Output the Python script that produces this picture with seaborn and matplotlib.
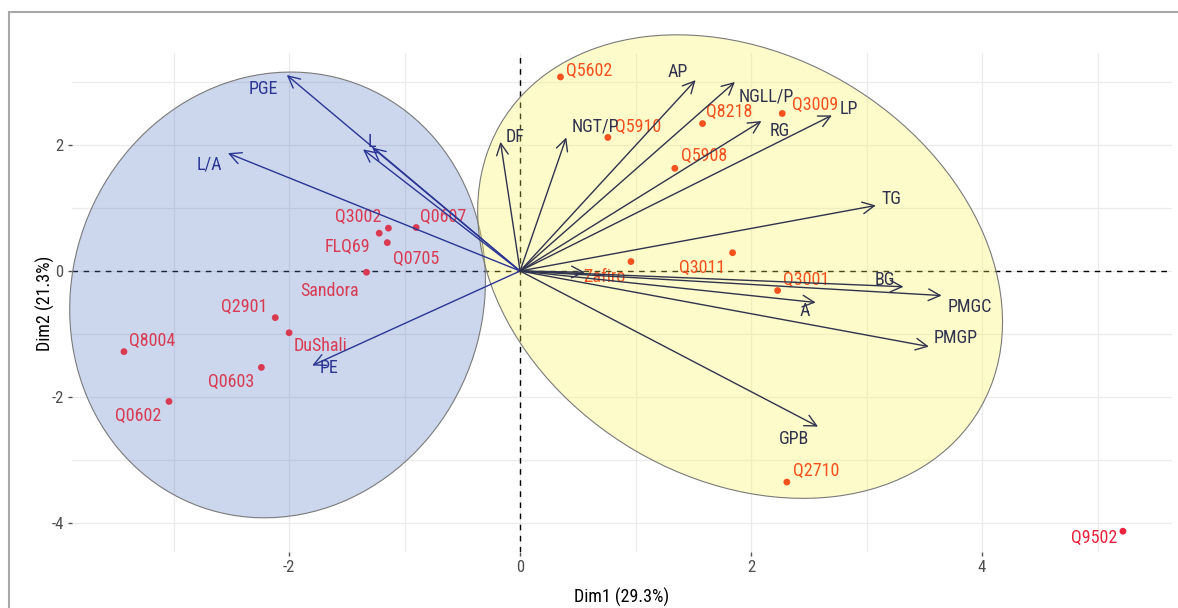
import numpy as np
import pandas as pd
import seaborn as sns
import matplotlib.pyplot as plt
from matplotlib import font_manager
from matplotlib.patches import Ellipse, Rectangle

# individuals (scores on Dim1 / Dim2) and their group
ind_names = ["Q5602", "Q5910", "Q8218", "Q3009", "Q5908", "Zafiro", "Q3011", "Q3001", "Q2710", "Q9502",
             "Q3002", "FLQ69", "Q0705", "Q0607", "Sandora", "Q2901", "DuShali", "Q8004", "Q0603", "Q0602"]
ind_dim1 = [0.35, 0.76, 1.58, 2.27, 1.34, 0.96, 1.84, 2.23, 2.31, 5.22,
            -1.14, -1.22, -1.15, -0.90, -1.33, -2.12, -2.00, -3.43, -2.24, -3.04]
ind_dim2 = [3.08, 2.12, 2.34, 2.50, 1.63, 0.15, 0.29, -0.31, -3.35, -4.13,
            0.68, 0.60, 0.45, 0.69, -0.02, -0.74, -0.98, -1.28, -1.53, -2.07]
ind_group = ["B"] * 9 + ["C"] + ["A"] * 10

# variables (loadings, drawn as arrows from the origin)
var_names = ["PGE", "L", "", "L/A", "PE", "DF", "NGT/P", "AP", "NGLL/P", "RG",
             "LP", "TG", "BG", "PMGC", "A", "PMGP", "GPB", ""]
var_dim1 = [-2.02, -1.28, -1.36, -2.53, -1.80, -0.17, 0.40, 1.52, 1.86, 2.09,
            2.70, 3.08, 3.32, 3.65, 2.56, 3.54, 2.58, 0.56]
var_dim2 = [3.11, 1.96, 1.93, 1.87, -1.50, 2.05, 2.12, 3.03, 3.00, 2.38,
            2.47, 1.04, -0.25, -0.39, -0.50, -1.20, -2.47, -0.02]
var_group = ["A"] * 5 + ["B"] * 13

# group ellipses: centre, full width / height, rotation (degrees)
ell_group = ["A", "B"]
ell_x = [-2.10, 1.905]
ell_y = [-0.38, 0.07]
ell_w = [3.59, 4.34]
ell_h = [7.08, 7.48]
ell_angle = [-2.5, 12.8]

# label offsets in pixels (repel-like placement)
ind_offsets = [(29, 6), (30, 10), (27, 12), (33, 9), (29, 12), (-27, -15), (-30, -15), (29, 11), (29, 11), (-29, -7),
               (-30, 11), (-32, -14), (29, -16), (27, 11), (-37, -19), (-31, 11), (31, -13), (28, 11), (-30, -15), (-31, -15)]
var_offsets = [(-23, -14), (0, 6), (0, 0), (-19, -11), (17, -2), (15, 5), (29, 11), (-18, 8), (31, -15), (18, -10),
               (17, 6), (16, 6), (-19, 7), (28, -11), (-11, -9), (27, 9), (-24, -12), (0, 0)]

df_ind = pd.DataFrame({"name": ind_names, "Dim1": ind_dim1, "Dim2": ind_dim2, "group": ind_group})

ind_colors = {"A": "#d93a52", "B": "#f4511e", "C": "#e8233d"}
var_colors = {"A": "#2b3594", "B": "#30334d"}
ell_fill = {"A": "#587dc6", "B": "#fcf552"}

#look for a narrow sans, the original labels are tall and condensed
fam = "Liberation Sans"
for f in font_manager.fontManager.ttflist:
    if f.name in ("Liberation Sans Narrow", "Arial Narrow", "Roboto Condensed"):
        fam = f.name
        break
if fam == "Liberation Sans":
    lab_fs, tick_fs = 11.5, 10.5
else:
    lab_fs, tick_fs = 13, 12

sns.set_theme(style="white")
plt.rcParams["font.family"] = [fam, "DejaVu Sans"]
plt.rcParams["axes.unicode_minus"] = False

fig = plt.figure(figsize=(11.78, 6.08), dpi=100)
ax = fig.add_axes([72 / 1178, 1 - 552 / 608, 1100 / 1178, 499 / 608])
ax.set_xlim(-3.88, 5.645)
ax.set_ylim(-4.46, 3.46)

ax.set_xticks([-2, 0, 2, 4])
ax.set_yticks([-4, -2, 0, 2])
ax.set_xticks(np.arange(-3, 6), minor=True)
ax.set_yticks(np.arange(-4, 4), minor=True)
ax.grid(which="both", color="#ebebeb", lw=0.9, zorder=0)
ax.set_axisbelow(True)
ax.tick_params(which="major", length=3, width=1, color="#555555", labelcolor="#4d4d4d",
               labelsize=tick_fs, pad=3, bottom=True, left=True)
ax.tick_params(which="minor", length=0)
for s in ax.spines.values():
    s.set_visible(False)

ax.axhline(0, color="black", lw=1, ls=(0, (4, 4)), zorder=1)
ax.axvline(0, color="black", lw=1, ls=(0, (4, 4)), zorder=1)

for g, cx, cy, w, h, a in zip(ell_group, ell_x, ell_y, ell_w, ell_h, ell_angle):
    e = Ellipse((cx, cy), w, h, angle=a, facecolor=ell_fill[g], edgecolor="none", alpha=0.3,
                zorder=2, clip_on=False)
    ax.add_patch(e)
    e2 = Ellipse((cx, cy), w, h, angle=a, facecolor="none", edgecolor="#7a7a7a", lw=0.8,
                 zorder=2, clip_on=False)
    ax.add_patch(e2)

sns.scatterplot(data=df_ind, x="Dim1", y="Dim2", hue="group", palette=ind_colors, s=24,
                linewidth=0, legend=False, ax=ax, zorder=4)

for n, x, y, g, off in zip(ind_names, ind_dim1, ind_dim2, ind_group, ind_offsets):
    ax.annotate(n, (x, y), xytext=off, textcoords="offset pixels", ha="center", va="center",
                color=ind_colors[g], fontsize=lab_fs, zorder=5)

for n, x, y, g, off in zip(var_names, var_dim1, var_dim2, var_group, var_offsets):
    ax.annotate("", xy=(x, y), xytext=(0, 0),
                arrowprops=dict(arrowstyle="->,head_length=0.7,head_width=0.35", color=var_colors[g],
                                lw=1.0, shrinkA=0, shrinkB=0), zorder=6)
    if n:
        ax.annotate(n, (x, y), xytext=off, textcoords="offset pixels", ha="center", va="center",
                    color=var_colors[g], fontsize=lab_fs, zorder=7)

ax.set_xlabel("")
ax.set_ylabel("")
fig.text(622 / 1178, 1 - 597 / 608, "Dim1 (29.3%)", ha="center", va="center", fontsize=lab_fs, color="black")
fig.text(45 / 1178, 1 - 303 / 608, "Dim2 (21.3%)", ha="center", va="center", rotation=90,
         fontsize=lab_fs, color="black")

# outer frame of the screenshot
fig.add_artist(Rectangle((8.5 / 1178, -0.1), 1.2, 1.1 - 12.5 / 608, transform=fig.transFigure,
                         fill=False, edgecolor="#a8a8a8", lw=1.5))

fig.savefig("out.png", dpi=100)
